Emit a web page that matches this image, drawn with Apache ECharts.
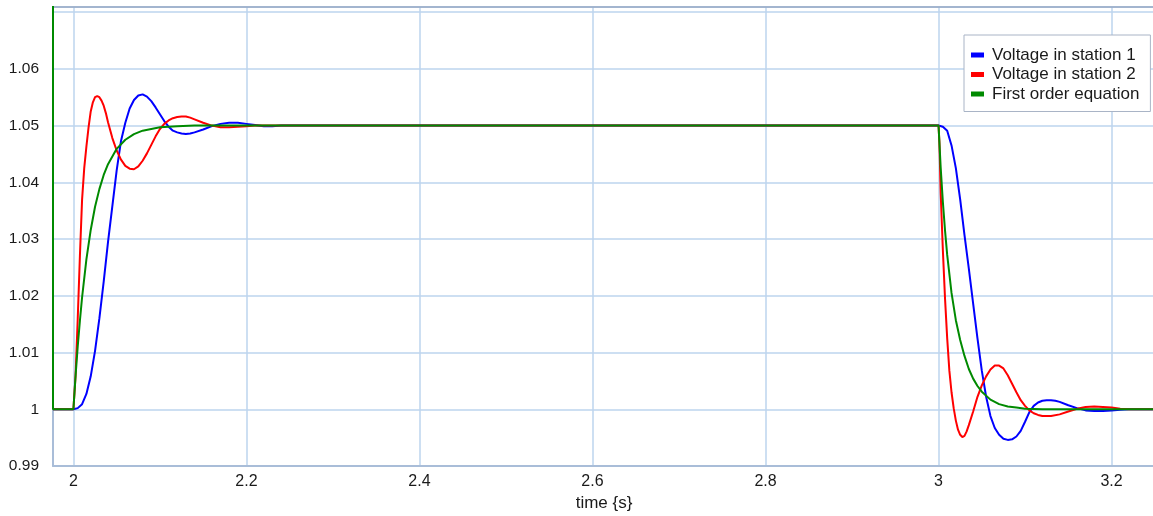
<!DOCTYPE html>
<html>
<head>
<meta charset="utf-8">
<script src="https://cdn.jsdelivr.net/npm/echarts@6/dist/echarts.min.js"></script>
<style>
  html, body { margin: 0; padding: 0; background: #ffffff; }
  #chart { width: 1153px; height: 516px; }
</style>
</head>
<body>
<div id="chart"></div>
<script>
// ---- data ----
const seriesNames = ['Voltage in station 1', 'Voltage in station 2', 'First order equation'];
const xTickLabels = ['2', '2.2', '2.4', '2.6', '2.8', '3', '3.2'];
const yTickLabels = ['0.99', '1', '1.01', '1.02', '1.03', '1.04', '1.05', '1.06'];

const station1Time = [1.9764, 2.000, 2.005, 2.010, 2.015, 2.020, 2.025, 2.030, 2.035, 2.040, 2.045, 2.050, 2.055, 2.060, 2.065, 2.070, 2.075, 2.080, 2.085, 2.090, 2.095, 2.100, 2.105, 2.110, 2.115, 2.120, 2.125, 2.130, 2.135, 2.140, 2.150, 2.160, 2.170, 2.180, 2.190, 2.200, 2.210, 2.220, 2.230, 2.240, 2.300,
  3.000, 3.005, 3.010, 3.015, 3.020, 3.025, 3.030, 3.035, 3.040, 3.045, 3.050, 3.055, 3.060, 3.065, 3.070, 3.075, 3.080, 3.085, 3.090, 3.095, 3.100, 3.105, 3.110, 3.115, 3.120, 3.125, 3.130, 3.135, 3.140, 3.150, 3.160, 3.170, 3.180, 3.190, 3.200, 3.210, 3.220, 3.251];
const station1Volt = [1.0000, 1.0000, 1.0002, 1.0009, 1.0027, 1.0058, 1.0103, 1.0160, 1.0225, 1.0295, 1.0358, 1.0421, 1.0473, 1.0505, 1.0530, 1.0545, 1.0553, 1.0555, 1.0551, 1.0543, 1.0532, 1.0520, 1.0508, 1.0498, 1.0491, 1.0488, 1.0486, 1.0485, 1.0486, 1.0488, 1.0493, 1.0499, 1.0503, 1.0505, 1.0505, 1.0503, 1.0501, 1.0499, 1.0499, 1.0500, 1.0500,
  1.0500, 1.0498, 1.0491, 1.0465, 1.0425, 1.0370, 1.0307, 1.0248, 1.0186, 1.0125, 1.0068, 1.0022, 0.9988, 0.9967, 0.9955, 0.9948, 0.9946, 0.9947, 0.9952, 0.9962, 0.9978, 0.9995, 1.0006, 1.0012, 1.0015, 1.0016, 1.0016, 1.0015, 1.0013, 1.0007, 1.0002, 0.9998, 0.9997, 0.9997, 0.9998, 0.9999, 1.0000, 1.0000];

const station2Time = [1.9764, 2.000, 2.0025, 2.005, 2.0075, 2.010, 2.0125, 2.015, 2.0175, 2.020, 2.0225, 2.025, 2.0275, 2.030, 2.0325, 2.035, 2.0375, 2.040, 2.045, 2.050, 2.055, 2.060, 2.065, 2.070, 2.075, 2.080, 2.085, 2.090, 2.095, 2.100, 2.105, 2.110, 2.115, 2.120, 2.125, 2.130, 2.135, 2.140, 2.150, 2.160, 2.170, 2.180, 2.190, 2.200, 2.210, 2.320,
  3.000, 3.001, 3.0025, 3.005, 3.0075, 3.010, 3.0125, 3.015, 3.0175, 3.020, 3.0225, 3.025, 3.0275, 3.030, 3.0325, 3.035, 3.040, 3.045, 3.050, 3.055, 3.060, 3.065, 3.070, 3.075, 3.080, 3.085, 3.090, 3.095, 3.100, 3.105, 3.110, 3.115, 3.120, 3.125, 3.130, 3.140, 3.150, 3.160, 3.170, 3.180, 3.190, 3.200, 3.210, 3.220, 3.251];
const station2Volt = [1.0000, 1.0000, 1.0060, 1.0160, 1.0270, 1.0369, 1.0425, 1.0463, 1.0497, 1.0525, 1.0541, 1.0550, 1.0552, 1.0550, 1.0544, 1.0535, 1.0522, 1.0506, 1.0478, 1.0456, 1.0440, 1.0429, 1.0424, 1.0423, 1.0428, 1.0438, 1.0451, 1.0466, 1.0481, 1.0494, 1.0503, 1.0509, 1.0513, 1.0515, 1.0516, 1.0516, 1.0514, 1.0511, 1.0505, 1.0500, 1.0497, 1.0497, 1.0498, 1.0499, 1.0500, 1.0500,
  1.0500, 1.0470, 1.0380, 1.0280, 1.0195, 1.0125, 1.0068, 1.0030, 1.0002, 0.9980, 0.9964, 0.9955, 0.9951, 0.9953, 0.9961, 0.9972, 0.9996, 1.0022, 1.0042, 1.0058, 1.0070, 1.0077, 1.0077, 1.0072, 1.0060, 1.0045, 1.0030, 1.0016, 1.0006, 0.9998, 0.9993, 0.9990, 0.9988, 0.9988, 0.9988, 0.9991, 0.9996, 1.0001, 1.0004, 1.0005, 1.0004, 1.0003, 1.0001, 1.0000, 1.0000];

const firstOrderTime = [1.9764, 1.9764, 2.000, 2.0025, 2.005, 2.0075, 2.010, 2.015, 2.020, 2.025, 2.030, 2.035, 2.040, 2.050, 2.060, 2.070, 2.080, 2.090, 2.100, 2.120, 2.140,
  3.000, 3.0025, 3.005, 3.0075, 3.010, 3.015, 3.020, 3.025, 3.030, 3.035, 3.040, 3.045, 3.050, 3.060, 3.070, 3.080, 3.090, 3.100, 3.120, 3.251];
const firstOrderVolt = [1.0900, 1.0000, 1.0000, 1.0059, 1.0111, 1.0156, 1.0197, 1.0264, 1.0316, 1.0357, 1.0388, 1.0413, 1.0432, 1.0459, 1.0475, 1.0485, 1.0491, 1.0494, 1.0497, 1.0499, 1.0500,
  1.0500, 1.0425, 1.0365, 1.0315, 1.0272, 1.0205, 1.0157, 1.0122, 1.0094, 1.0071, 1.0054, 1.0041, 1.0031, 1.0017, 1.0009, 1.0005, 1.0003, 1.0001, 1.0000, 1.0000];

const seriesColors = ['#0000ff', '#ff0000', '#008a00'];

function zip(ts, vs) { return ts.map((t, i) => [t, vs[i]]); }
const allData = [zip(station1Time, station1Volt), zip(station2Time, station2Volt), zip(firstOrderTime, firstOrderVolt)];

const FONT = '"Liberation Sans", Arial, sans-serif';
const chart = echarts.init(document.getElementById('chart'), null, { renderer: 'canvas' });

const X_MIN = 1.9764, X_MAX = 3.2502;

const option = {
  animation: false,
  backgroundColor: '#ffffff',
  textStyle: { fontFamily: FONT },
  grid: { left: 53, top: 7, right: -2, bottom: 50, containLabel: false, outerBoundsMode: 'none' },
  legend: {
    orient: 'vertical',
    left: 964, top: 35,
    padding: [11.5, 11, 9, 7],
    itemWidth: 13, itemHeight: 5, itemGap: 2.5,
    icon: 'rect',
    backgroundColor: '#ffffff',
    borderColor: '#a9b4c6', borderWidth: 1,
    textStyle: { fontFamily: FONT, fontSize: 17, color: '#1a1a1a', lineHeight: 17, padding: [0, 0, 0, 3] },
    data: seriesNames
  },
  xAxis: [{
    type: 'value',
    min: X_MIN, max: X_MAX,
    minInterval: 0.2, maxInterval: 0.2,
    name: 'time {s}', nameLocation: 'middle', nameGap: 27,
    nameTextStyle: { fontFamily: FONT, fontSize: 17, color: '#1a1a1a', verticalAlign: 'top' },
    axisLine: { show: true, lineStyle: { color: '#a9bdd8', width: 2 } },
    axisTick: { show: false },
    axisLabel: {
      fontFamily: FONT, fontSize: 16, color: '#1a1a1a', margin: 8,
      showMinLabel: false, showMaxLabel: false,
      formatter: function (v) {
        const k = Math.round(v / 0.2);
        if (Math.abs(v / 0.2 - k) > 1e-6) return '';
        const s = String(Number((k * 0.2).toFixed(1)));
        return xTickLabels.indexOf(s) >= 0 ? s : '';
      }
    },
    splitLine: { show: true, lineStyle: { color: '#bcd4ee', width: 1.5 } }
  }, {
    type: 'value', position: 'top',
    min: X_MIN, max: X_MAX,
    axisLine: { show: true, lineStyle: { color: '#95a8c4', width: 1.5 } },
    axisTick: { show: false }, axisLabel: { show: false }, splitLine: { show: false }
  }],
  yAxis: {
    type: 'value',
    min: 0.99, max: 1.0709,
    interval: 0.01,
    axisLine: { show: true, lineStyle: { color: '#a9bdd8', width: 2 } },
    axisTick: { show: false },
    axisLabel: {
      fontFamily: FONT, fontSize: 15.5, color: '#1a1a1a', margin: 14,
      formatter: function (v) {
        const s = String(Number(v.toFixed(2)));
        if (Math.abs(v - Number(s)) > 1e-6) return '';
        return yTickLabels.indexOf(s) >= 0 ? s : '';
      }
    },
    splitLine: { show: true, lineStyle: { color: '#bcd4ee', width: 1.5 } }
  },
  series: seriesNames.map((name, i) => ({
    name: name,
    type: 'line',
    xAxisIndex: 0,
    data: allData[i],
    showSymbol: false,
    symbol: 'none',
    clip: true,
    color: seriesColors[i],
    lineStyle: { color: seriesColors[i], width: 2 },
    z: 2 + i
  }))
};
chart.setOption(option);
</script>
</body>
</html>
